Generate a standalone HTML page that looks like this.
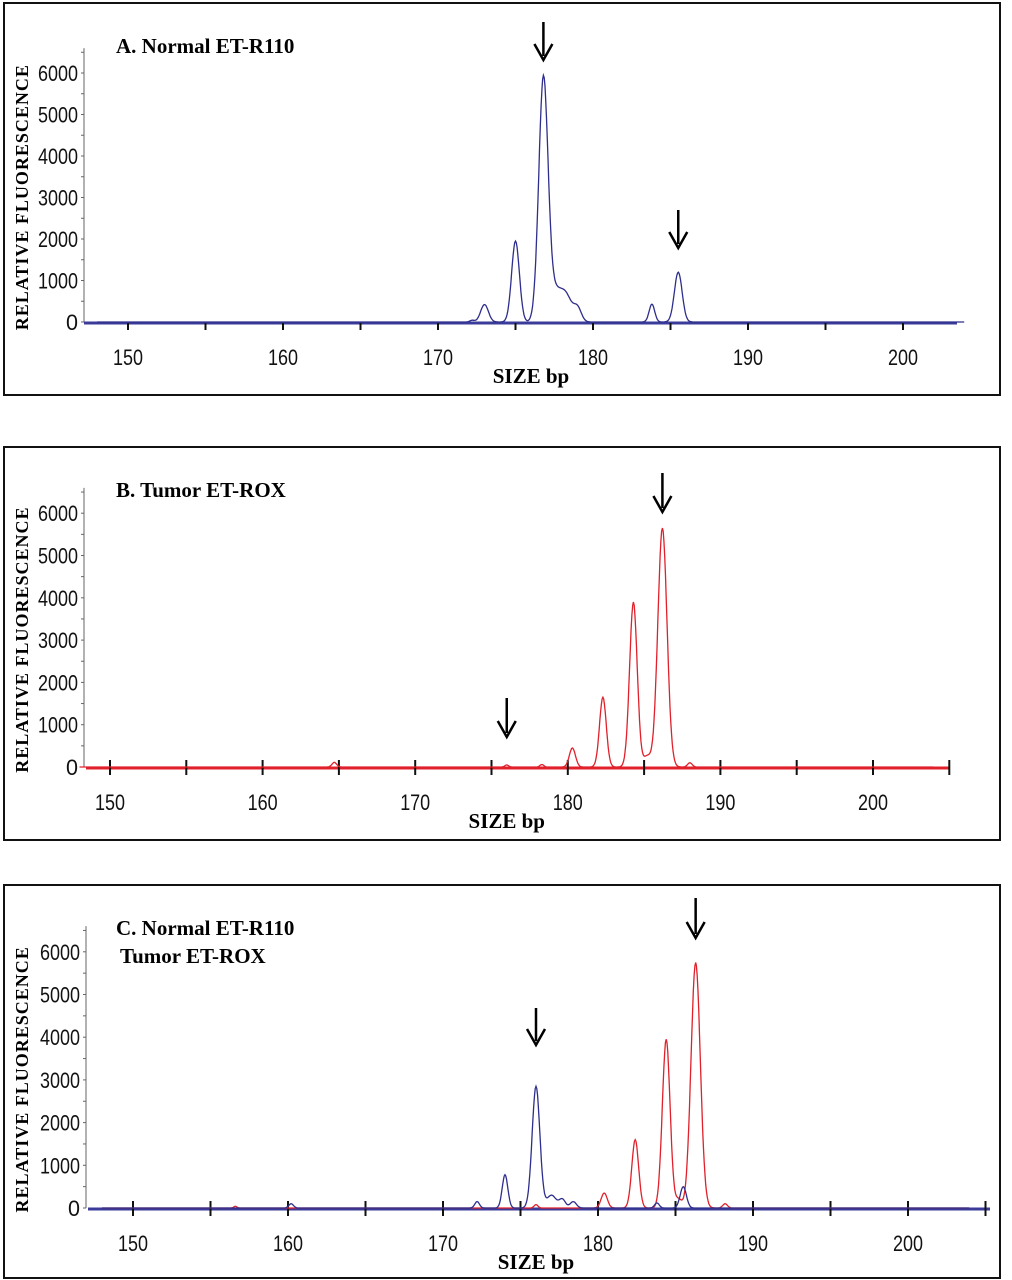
<!DOCTYPE html>
<html><head><meta charset="utf-8">
<style>
html,body{margin:0;padding:0;background:#fff;}
svg{display:block;}
.tl{font-family:"Liberation Sans",sans-serif;font-size:22px;fill:#111;}
.ti{font-family:"Liberation Serif",serif;font-weight:bold;font-size:21px;fill:#000;}
.yl{font-family:"Liberation Serif",serif;font-weight:bold;font-size:18px;fill:#000;letter-spacing:1px;}
</style></head>
<body>
<svg id="chart" width="1012" height="1280" viewBox="0 0 1012 1280" xmlns="http://www.w3.org/2000/svg"></svg>
<script>
// ---- data ----
const xTicks = [150,160,170,180,190,200];
const yTicks = [0,1000,2000,3000,4000,5000,6000];
// Panel A: Normal ET-R110 (blue)
const aBlueCenters = [172.2,173.0,175.0,176.8,177.6,178.3,179.0,183.8,185.5];
const aBlueHeights = [40,420,1950,5850,700,550,330,430,1200];
const aBlueWidths  = [0.15,0.25,0.25,0.3,0.4,0.35,0.25,0.18,0.25];
// Panel B: Tumor ET-ROX (red)
const bRedCenters = [164.7,176.0,178.3,180.3,182.3,184.3,185.2,186.2,188.0];
const bRedHeights = [110,50,60,450,1650,3900,250,5650,100];
const bRedWidths  = [0.15,0.12,0.12,0.2,0.22,0.25,0.25,0.3,0.15];
// Panel C: overlay
const cBlueCenters = [160.2,172.2,174.0,176.0,177.0,177.7,178.4,183.8,185.5];
const cBlueHeights = [100,150,780,2850,300,200,150,120,500];
const cBlueWidths  = [0.15,0.15,0.18,0.25,0.3,0.2,0.2,0.15,0.2];
const cRedCenters = [156.6,176.0,180.4,182.4,184.4,185.2,186.3,188.2];
const cRedHeights = [40,80,350,1600,3950,200,5750,100];
const cRedWidths  = [0.1,0.12,0.2,0.22,0.25,0.2,0.3,0.15];

const NS="http://www.w3.org/2000/svg";
const svg=document.getElementById('chart');
function mk(tag,attrs,parent){const e=document.createElementNS(NS,tag);for(const k in attrs)e.setAttribute(k,attrs[k]);(parent||svg).appendChild(e);return e;}

const panels=[
 {key:'a',box:[4,3,996,392],y0:322,pxPer1000:41.5,x150:128,pxPerBp:15.5,xStart:84,xEnd:957,axisX:84,
  title:['A. Normal ET-R110'],series:[[aBlueCenters,aBlueHeights,aBlueWidths,'#2e2e8c']],
  arrows:[[176.8,22,60],[185.5,210,248]],base:'#3b3b9a',crossTicks:false},
 {key:'b',box:[4,447,996,393],y0:767,pxPer1000:42.3,x150:110,pxPerBp:15.26,xStart:86,xEnd:950,axisX:84,
  title:['B. Tumor ET-ROX'],series:[[bRedCenters,bRedHeights,bRedWidths,'#e0202a']],
  arrows:[[186.2,473,512],[176.0,698,737]],base:'#e0202a',crossTicks:true},
 {key:'c',box:[4,885,996,393],y0:1208,pxPer1000:42.7,x150:133,pxPerBp:15.5,xStart:88,xEnd:990,axisX:86,
  title:['C. Normal ET-R110','Tumor ET-ROX'],series:[[cRedCenters,cRedHeights,cRedWidths,'#e0202a'],[cBlueCenters,cBlueHeights,cBlueWidths,'#2e2e8c']],
  arrows:[[186.3,898,938],[176.0,1008,1045]],base:'#3b3b9a',crossTicks:true}
];

panels.forEach(p=>{
  const g=mk('g',{});
  
  
  const xs=v=>p.x150+(v-150)*p.pxPerBp;
  const ys=v=>p.y0-v/1000*p.pxPer1000;
  const box=mk('rect',{x:p.box[0],y:p.box[1],width:p.box[2],height:p.box[3],fill:'none',stroke:'#111','stroke-width':2},g);
  
  
  const ya=mk('line',{x1:p.axisX,y1:ys(6600),x2:p.axisX,y2:p.y0,stroke:'#666','stroke-width':1},g);
  
  
  for(let v=0;v<=6500;v+=500){mk('line',{x1:p.axisX-3,y1:ys(v),x2:p.axisX,y2:ys(v),stroke:'#666'},g);}
  yTicks.forEach(v=>{
    const t=mk('text',{x:p.axisX-6,y:ys(v)+8,'text-anchor':'end',class:'tl',textLength:(v===0?12:40),lengthAdjust:'spacingAndGlyphs'},g);
    t.textContent=v;
    
    
  });
  const yl=mk('text',{x:0,y:0,class:'yl','text-anchor':'middle',transform:`translate(${p.box[0]+24},${(p.y0+ys(6400))/2+8}) rotate(-90)`},g);
  yl.textContent='RELATIVE FLUORESCENCE';
  
  
  const bl=mk('line',{x1:p.xStart,y1:p.y0+1,x2:p.xEnd,y2:p.y0+1,stroke:p.base,'stroke-width':3},g);
  
  
  for(let v=150;v<=p.xEnd;v+=5){
    if(xs(v)>p.xEnd) break;
    mk('line',{x1:xs(v),y1:p.crossTicks?p.y0-7:p.y0+1,x2:xs(v),y2:p.y0+8,stroke:'#111','stroke-width':2},g);
  }
  xTicks.forEach(v=>{
    const t=mk('text',{x:xs(v),y:p.y0+43,'text-anchor':'middle',class:'tl',textLength:30,lengthAdjust:'spacingAndGlyphs'},g);
    t.textContent=v;
    
    
  });
  const xl=mk('text',{x:xs(176),y:p.y0+61,'text-anchor':'middle',class:'ti'},g);
  xl.textContent='SIZE bp';
  
  
  p.title.forEach((s,i)=>{
    const t=mk('text',{x:p.box[0]+112+(i?4:0),y:p.box[1]+50+i*28,class:'ti'},g);
    t.textContent=s;
    
    
  });
  p.series.forEach(([cs,hs,ws,col])=>{
    let d='';
    for(let x=148;x<=204;x+=0.05){
      let v=0;
      for(let i=0;i<cs.length;i++){v+=hs[i]*Math.exp(-0.5*Math.pow((x-cs[i])/ws[i],2));}
      d+=(d?'L':'M')+xs(x).toFixed(1)+','+ys(v).toFixed(1);
    }
    const path=mk('path',{d:d,fill:'none',stroke:col,'stroke-width':1.3},g);
    
    
  });
  p.arrows.forEach(([bp,y1,y2])=>{
    const ax=xs(bp);
    const ag=mk('g',{},g);
    
    
    mk('line',{x1:ax,y1:y1,x2:ax,y2:y2-4,stroke:'#000','stroke-width':2.5},ag);
    mk('path',{d:`M${ax-9},${y2-16} L${ax},${y2} L${ax+9},${y2-16}`,fill:'none',stroke:'#000','stroke-width':2.5},ag);
  });
});
</script>
</body></html>
